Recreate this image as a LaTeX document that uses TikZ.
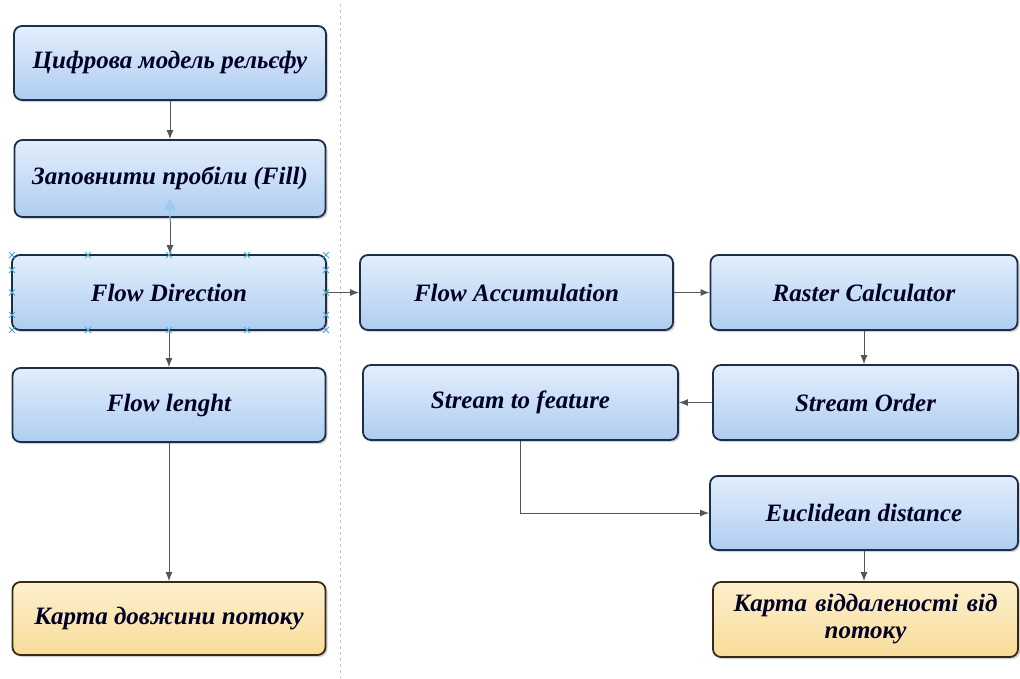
\documentclass[tikz,border=0pt]{standalone}
\usepackage{fontspec}
\setmainfont{Liberation Serif}
\usetikzlibrary{arrows.meta,shadows,calc}
\definecolor{boxedge}{HTML}{1C2E48}
\definecolor{bluetop}{HTML}{E2EEFC}
\definecolor{bluebot}{HTML}{AFCDF1}
\definecolor{yeltop}{HTML}{FDF0CC}
\definecolor{yelbot}{HTML}{F8DC9A}
\definecolor{yeledge}{HTML}{3A2A14}
\definecolor{linegray}{HTML}{555555}
\definecolor{handle}{HTML}{4AA8E0}
\tikzset{
  bluebox/.style={draw=boxedge, line width=1.8pt, rounded corners=8pt,
    top color=bluetop, bottom color=bluebot,
    drop shadow={shadow xshift=2pt, shadow yshift=-2pt, opacity=0.35, fill=gray},
    minimum height=74pt, align=center,
    font=\fontsize{25}{27}\selectfont\bfseries\itshape, text=black!85!blue},
  yelbox/.style={bluebox, draw=yeledge, top color=yeltop, bottom color=yelbot},
  conn/.style={draw=linegray, line width=1pt, -{Latex[length=9pt,width=7pt]}},
  hcross/.style={draw=handle, line width=0.8pt}
}
\begin{document}
\begin{tikzpicture}[x=1pt,y=-1pt]
\useasboundingbox (0,0) rectangle (1020,678);
\fill[white] (0,0) rectangle (1020,678);
% dashed separator
\draw[gray!45, line width=0.9pt, dash pattern=on 3pt off 3pt] (340,4) -- (340,678);

% nodes
\node[bluebox, minimum width=312pt, minimum height=74pt] (b1) at (170,63) {Цифрова модель рельєфу};
\node[bluebox, minimum width=311pt, minimum height=77pt] (b2) at (170,178.5) {Заповнити пробіли (Fill)};
\node[bluebox, minimum width=314pt, minimum height=75pt] (fd) at (169,292.5) {Flow Direction};
\node[bluebox, minimum width=313pt, minimum height=74pt] (fl) at (169,405) {Flow lenght};
\node[yelbox, minimum width=313pt, minimum height=73pt] (k1) at (169,618.5) {Карта довжини потоку};

\node[bluebox, minimum width=313pt, minimum height=75pt] (fa) at (516.5,292.5) {Flow Accumulation};
\node[bluebox, minimum width=307pt, minimum height=75pt] (rc) at (864,292.5) {Raster Calculator};
\node[bluebox, minimum width=305pt, minimum height=75pt] (so) at (865.5,402.5) {Stream Order};
\node[bluebox, minimum width=315pt, minimum height=75pt] (sf) at (520.5,402.5) {Stream to feature};
\node[bluebox, minimum width=308pt, minimum height=74pt] (ed) at (864,513) {Euclidean distance};
\node[yelbox, minimum width=305pt, minimum height=75pt, text width=290pt] (k2) at (865.5,619.5) {Карта віддаленості від\\потоку};

% connectors
\draw[conn] (b1.south) -- (b1.south |- b2.north);
\draw[conn] (b2.south) -- (b2.south |- fd.north);
\draw[conn] (fd.south) -- (fd.south |- fl.north);
\draw[conn] (fl.south) -- (fl.south |- k1.north);
\draw[conn] (fd.east) -- (fa.west);
\draw[conn] (fa.east) -- (rc.west);
\draw[conn] (rc.south) -- (rc.south |- so.north);
\draw[conn] (so.west) -- (sf.east);
\draw[conn] (sf.south) |- (ed.west);
\draw[conn] (ed.south) -- (ed.south |- k2.north);

% selection highlight on the Fill connector
\fill[handle!60, opacity=0.7] (170,198) -- (164,210) -- (176,210) -- cycle;
\draw[handle!60, line width=2pt, opacity=0.6] (170,210) -- (170,222);

% selection handles on Flow Direction
\foreach \p in {(12,255),(88,255),(169,255),(247,255),(326,255),
                (12,330),(88,330),(169,330),(247,330),(326,330),
                (12,270),(12,292.5),(12,315),(326,270),(326,292.5),(326,315)}{
  \draw[hcross] \p ++(-3,-3) -- ++(6,6) \p ++(-3,3) -- ++(6,-6);
}
\end{tikzpicture}
\end{document}
